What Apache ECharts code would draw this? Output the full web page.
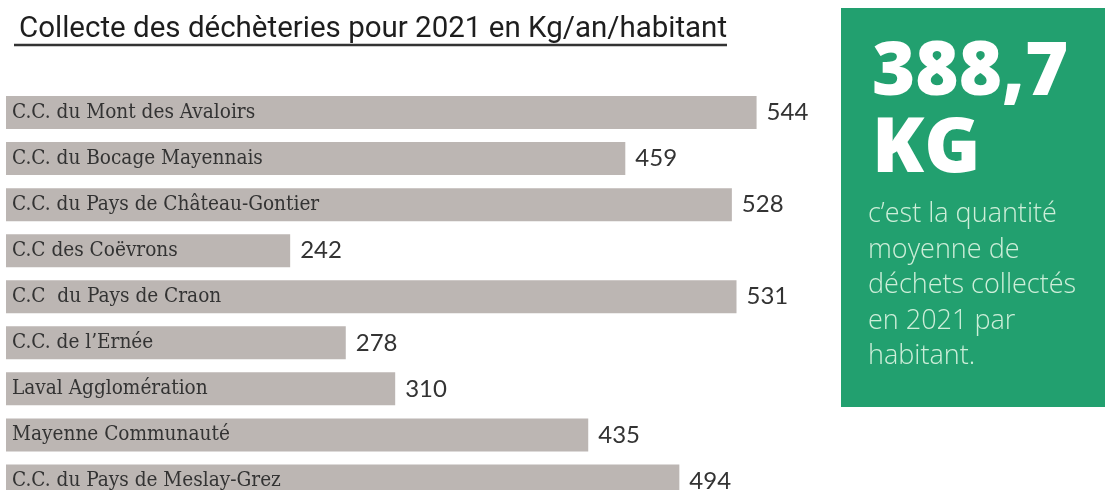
<!DOCTYPE html>
<html>
<head>
<meta charset="utf-8">
<script src="https://cdn.jsdelivr.net/npm/echarts@6/dist/echarts.min.js"></script>
<style>
  html, body { margin: 0; padding: 0; background: #fff; overflow: hidden; }
  #main { width: 1105px; height: 490px; }
</style>
</head>
<body>
<div id="main"></div>
<script>
// collecte par EPCI (kg/an/habitant)
var categories = [
    'C.C. du Mont des Avaloirs',
    'C.C. du Bocage Mayennais',
    'C.C. du Pays de Château-Gontier',
    'C.C des Coëvrons',
    'C.C  du Pays de Craon',
    'C.C. de l’Ernée',
    'Laval Agglomération',
    'Mayenne Communauté',
    'C.C. du Pays de Meslay-Grez'
];
var values = [544, 459, 528, 242, 531, 278, 310, 435, 494];

var bigNumber = ['388,7', 'KG'];
var sideText = ['c’est la quantité', 'moyenne de', 'déchets collectés', 'en 2021 par', 'habitant.'];

var chart = echarts.init(document.getElementById('main'));

var textLines = sideText.map(function (t, i) {
    return {
        type: 'text',
        left: 868,
        top: 201 + i * 35.5,
        style: {
            text: t,
            fill: '#cdeed9',
            font: '300 27px "Open Sans", Lato, sans-serif'
        }
    };
});

var option = {
    animation: false,
    title: {
        text: 'Collecte des déchèteries pour 2021 en Kg/an/habitant',
        left: 14,
        top: 10,
        textStyle: {
            fontFamily: 'Roboto, sans-serif',
            fontWeight: 'normal',
            fontSize: 29.5,
            color: '#1e1e1e'
        }
    },
    grid: {
        left: 6,
        width: 800,
        top: 89.5,
        bottom: -14,
        outerBoundsMode: 'none',
        containLabel: false
    },
    xAxis: {
        type: 'value',
        min: 58,
        max: 576,
        show: false
    },
    yAxis: {
        type: 'category',
        inverse: true,
        data: categories,
        z: 5,
        axisLine: { show: false },
        axisTick: { show: false },
        axisLabel: {
            inside: true,
            margin: 6,
            color: '#333',
            fontFamily: '"DejaVu Serif Condensed", "Liberation Serif", serif',
            fontSize: 20.6
        }
    },
    series: [{
        type: 'bar',
        data: values,
        barWidth: 33,
        clip: true,
        itemStyle: { color: '#bcb6b3' },
        label: {
            show: true,
            position: 'right',
            distance: 10,
            color: '#333',
            fontFamily: 'Lato, sans-serif',
            fontSize: 24,
            formatter: '{c}'
        }
    }],
    graphic: [
        {
            type: 'line',
            shape: { x1: 14, y1: 45, x2: 727, y2: 45 },
            style: { stroke: '#333', lineWidth: 2.5 }
        },
        {
            type: 'rect',
            shape: { x: 841, y: 8, width: 264, height: 399 },
            style: { fill: '#22a06f' }
        },
        {
            type: 'text',
            left: 872,
            top: 37,
            style: {
                text: bigNumber[0],
                fill: '#fff',
                font: '800 74px "Open Sans", Lato, sans-serif'
            }
        },
        {
            type: 'text',
            left: 872,
            top: 112,
            style: {
                text: bigNumber[1],
                fill: '#fff',
                font: '800 76px "Open Sans", Lato, sans-serif'
            }
        }
    ].concat(textLines)
};

chart.setOption(option);
</script>
</body>
</html>
